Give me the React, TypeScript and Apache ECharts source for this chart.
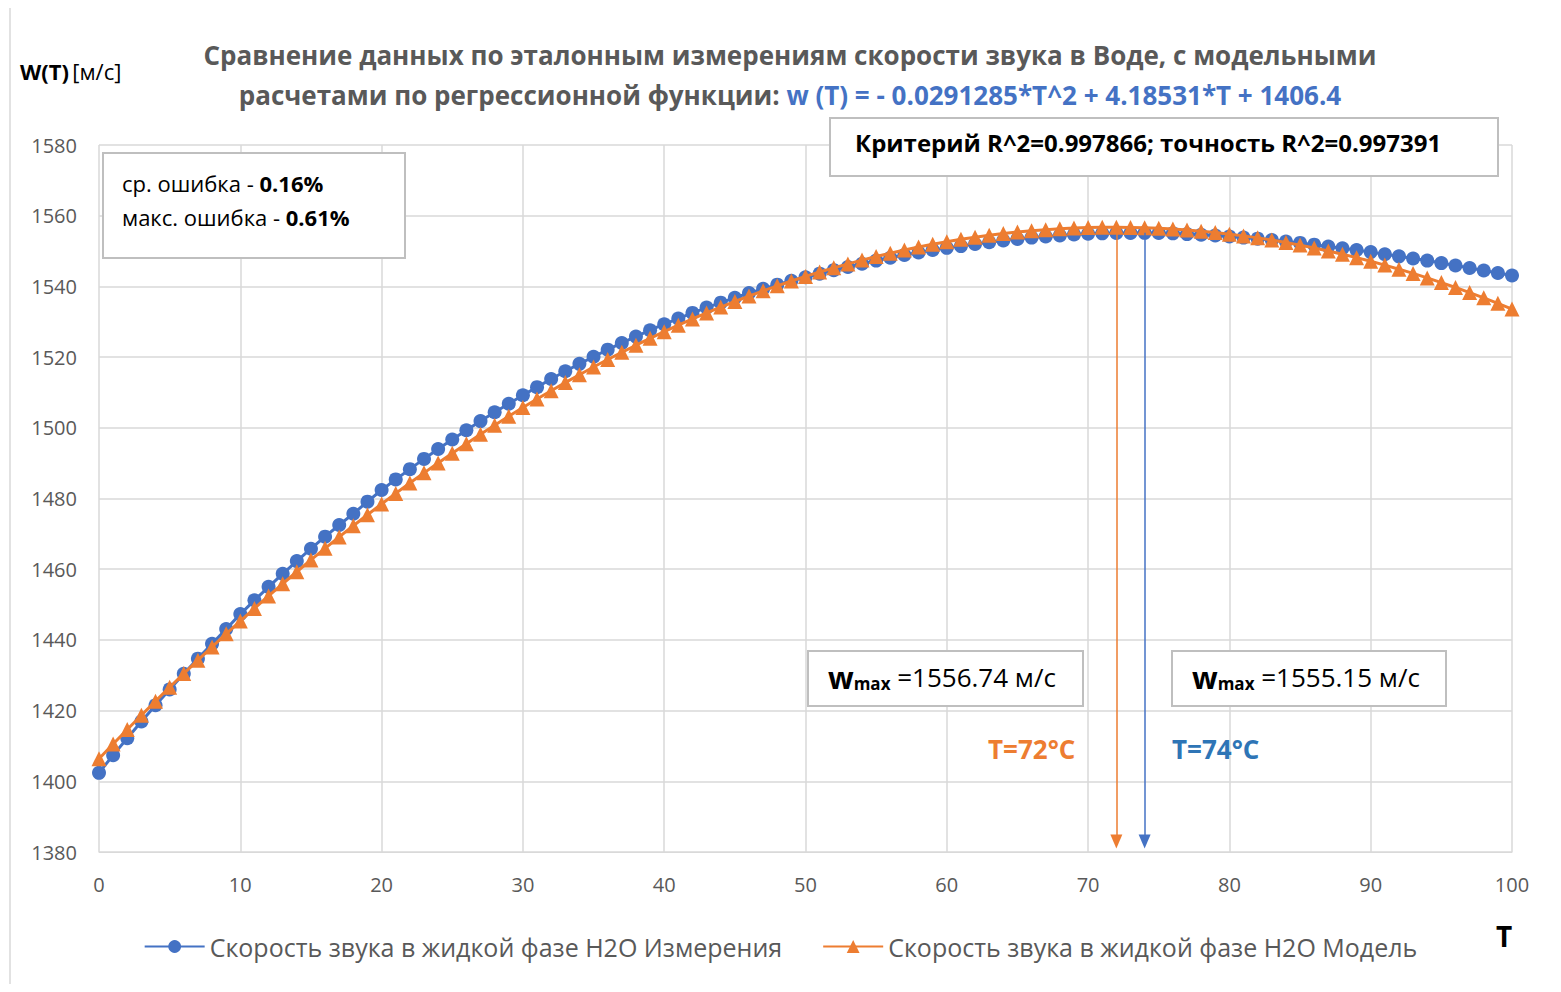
import React, { useEffect, useRef } from "react";
import * as echarts from "echarts";

const temps: number[] = Array.from({ length: 101 }, (_, i) => i);
const measured: number[] = [
  1402.4, 1407.4, 1412.2, 1416.9, 1421.5, 1426.0, 1430.4, 1434.7, 1438.9, 1443.1,
  1447.3, 1451.2, 1455.0, 1458.7, 1462.3, 1465.8, 1469.2, 1472.5, 1475.7, 1479.1,
  1482.4, 1485.4, 1488.3, 1491.2, 1494.0, 1496.7, 1499.3, 1501.9, 1504.4, 1506.8,
  1509.2, 1511.5, 1513.8, 1516.0, 1518.1, 1520.1, 1522.1, 1524.0, 1525.8, 1527.6,
  1529.3, 1530.9, 1532.5, 1534.0, 1535.4, 1536.8, 1538.1, 1539.3, 1540.5, 1541.6,
  1542.6, 1543.6, 1544.6, 1545.5, 1546.4, 1547.3, 1548.1, 1548.9, 1549.6, 1550.3,
  1550.9, 1551.4, 1552.0, 1552.5, 1553.0, 1553.4, 1553.8, 1554.1, 1554.4, 1554.7,
  1554.9, 1555.0, 1555.1, 1555.1, 1555.15, 1555.1, 1555.0, 1554.8, 1554.6, 1554.4,
  1554.1, 1553.8, 1553.5, 1553.1, 1552.7, 1552.3, 1551.8, 1551.3, 1550.8, 1550.3,
  1549.7, 1549.1, 1548.5, 1547.9, 1547.3, 1546.6, 1545.9, 1545.2, 1544.5, 1543.8,
  1543.1,
];
const model: number[] = [
  1406.40, 1410.56, 1414.66, 1418.70, 1422.68, 1426.60, 1430.47, 1434.27, 1438.02, 1441.71,
  1445.34, 1448.91, 1452.43, 1455.88, 1459.28, 1462.62, 1465.90, 1469.13, 1472.29, 1475.40,
  1478.45, 1481.44, 1484.37, 1487.25, 1490.06, 1492.82, 1495.52, 1498.16, 1500.74, 1503.27,
  1505.73, 1508.14, 1510.49, 1512.78, 1515.02, 1517.19, 1519.31, 1521.36, 1523.36, 1525.31,
  1527.19, 1529.02, 1530.78, 1532.49, 1534.14, 1535.73, 1537.27, 1538.74, 1540.16, 1541.52,
  1542.82, 1544.06, 1545.25, 1546.37, 1547.44, 1548.45, 1549.40, 1550.29, 1551.12, 1551.90,
  1552.62, 1553.32, 1553.92, 1554.46, 1554.95, 1555.37, 1555.74, 1556.05, 1556.30, 1556.50,
  1556.63, 1556.71, 1556.73, 1556.69, 1556.59, 1556.43, 1556.22, 1555.94, 1555.61, 1555.22,
  1554.77, 1554.29, 1553.73, 1553.10, 1552.42, 1551.68, 1550.88, 1550.03, 1549.11, 1548.14,
  1547.11, 1546.02, 1544.87, 1543.67, 1542.40, 1541.08, 1539.70, 1538.26, 1536.77, 1535.21,
  1533.60,
];
const seriesNames = [
  "Скорость звука в жидкой фазе H2O Измерения",
  "Скорость звука в жидкой фазе H2O Модель",
];
const measMax = { t: 74, w: 1555.15 };
const modelMax = { t: 72, w: 1556.74 };

const BLUE = "#4472C4";
const ORANGE = "#ED7D31";
const GREY = "#595959";
const FONT = "'Open Sans', 'Noto Sans', sans-serif";

const box = (x: number, y: number, w: number, h: number) => ({
  type: "rect",
  shape: { x, y, width: w, height: h },
  style: { fill: "#fff", stroke: "#bfbfbf", lineWidth: 2 },
  z: 10,
});

const wmaxText = (w: number) => ({
  text: "{w|w}{s|max}{n| =" + w.toFixed(2) + " м/с}",
  rich: {
    w: { fontSize: 30, fontWeight: "bold", fill: "#000", fontFamily: FONT },
    s: { fontSize: 17, fontWeight: "bold", fill: "#000", padding: [12, 0, 0, 0], fontFamily: FONT },
    n: { fontSize: 26, fill: "#000", fontFamily: FONT },
  },
});

export default function App() {
  const ref = useRef<HTMLDivElement>(null);

  useEffect(() => {
    if (!ref.current) return;
    const chart = echarts.init(ref.current, null, { renderer: "svg" });
    chart.setOption({
      animation: false,
      textStyle: { fontFamily: FONT },
      title: {
        left: 785,
        top: 30,
        textAlign: "center",
        text: "{g|Сравнение данных по эталонным измерениям скорости звука в Воде, с модельными}\n{g|расчетами по регрессионной функции: }{b|w (T) = - 0.0291285*T^2 + 4.18531*T + 1406.4}",
        textStyle: {
          rich: {
            g: { fontSize: 26, fontWeight: "bold", color: GREY, lineHeight: 40, fontFamily: FONT },
            b: { fontSize: 26, fontWeight: "bold", color: BLUE, lineHeight: 40, fontFamily: FONT },
          },
        },
      },
      legend: {
        bottom: 28,
        left: "center",
        itemGap: 40,
        itemWidth: 60,
        itemHeight: 16,
        textStyle: { fontSize: 25, color: GREY, fontFamily: FONT },
        data: seriesNames,
      },
      grid: { left: 99, right: 49, top: 145, bottom: 140 },
      xAxis: {
        type: "value",
        min: 0,
        max: 100,
        interval: 10,
        axisLine: { lineStyle: { color: "#d9d9d9" } },
        axisTick: { show: false },
        splitLine: { show: true, lineStyle: { color: "#d9d9d9", width: 1.5 } },
        axisLabel: { fontSize: 20, color: GREY, margin: 22 },
      },
      yAxis: {
        type: "value",
        min: 1380,
        max: 1580,
        interval: 20,
        axisLine: { show: false },
        axisTick: { show: false },
        splitLine: { lineStyle: { color: "#d9d9d9", width: 1.5 } },
        axisLabel: { fontSize: 20, color: GREY, margin: 22, formatter: (v: number) => String(v) },
      },
      series: [
        {
          name: seriesNames[0],
          type: "line",
          data: temps.map((t, i) => [t, measured[i]]),
          symbol: "circle",
          symbolSize: 14,
          itemStyle: { color: BLUE },
          lineStyle: { color: BLUE, width: 3 },
          markLine: {
            silent: true,
            symbol: ["none", "triangle"],
            symbolSize: [12, 14],
            label: { show: false },
            lineStyle: { color: BLUE, width: 1.5, type: "solid" },
            data: [[{ coord: [measMax.t, measMax.w] }, { coord: [measMax.t, 1383] }]],
          },
          z: 2,
        },
        {
          name: seriesNames[1],
          type: "line",
          data: temps.map((t, i) => [t, model[i]]),
          symbol: "triangle",
          symbolSize: 15,
          itemStyle: { color: ORANGE },
          lineStyle: { color: ORANGE, width: 3 },
          markLine: {
            silent: true,
            symbol: ["none", "triangle"],
            symbolSize: [12, 14],
            label: { show: false },
            lineStyle: { color: ORANGE, width: 1.5, type: "solid" },
            data: [[{ coord: [modelMax.t, modelMax.w] }, { coord: [modelMax.t, 1383] }]],
          },
          z: 3,
        },
      ],
      graphic: [
        {
          type: "rect",
          shape: { x: 10, y: 5, width: 1545, height: 980 },
          style: { fill: "none", stroke: "#d9d9d9", lineWidth: 1.5 },
          silent: true,
        },
        {
          type: "text", left: 20, top: 60, z: 10,
          style: {
            text: "{b|W(T)} {n|[м/с]}",
            rich: {
              b: { fontSize: 22, fontWeight: "bold", fill: "#000", fontFamily: FONT },
              n: { fontSize: 22, fill: "#000", fontFamily: FONT },
            },
          },
        },
        { type: "text", left: 1496, top: 922, z: 10, style: { text: "T", fontSize: 28, fontWeight: "bold", fill: "#000", fontFamily: FONT } },
        box(103, 153, 302, 105),
        {
          type: "text", left: 122, top: 172, z: 11,
          style: {
            text: "{n|ср. ошибка - }{b|0.16%}\n{n|макс. ошибка - }{b|0.61%}",
            rich: {
              n: { fontSize: 22, fill: "#000", lineHeight: 34, fontFamily: FONT },
              b: { fontSize: 22, fontWeight: "bold", fill: "#000", lineHeight: 34, fontFamily: FONT },
            },
          },
        },
        box(830, 118, 668, 58),
        {
          type: "text", left: 855, top: 130, z: 11,
          style: { text: "Критерий R^2=0.997866; точность R^2=0.997391", fontSize: 24, fontWeight: "bold", fill: "#000", fontFamily: FONT },
        },
        box(808, 651, 275, 55),
        { type: "text", left: 828, top: 662, z: 11, style: wmaxText(modelMax.w) },
        box(1172, 651, 274, 55),
        { type: "text", left: 1192, top: 662, z: 11, style: wmaxText(measMax.w) },
        {
          type: "text", left: 988, top: 736, z: 11,
          style: { text: "T=" + modelMax.t + "°C", fontSize: 26, fontWeight: "bold", fill: ORANGE, fontFamily: FONT },
        },
        {
          type: "text", left: 1172, top: 736, z: 11,
          style: { text: "T=" + measMax.t + "°C", fontSize: 26, fontWeight: "bold", fill: "#2E75B6", fontFamily: FONT },
        },
      ],
    });
    return () => chart.dispose();
  }, []);

  return <div ref={ref} style={{ width: 1561, height: 992, margin: -8, background: "#fff" }} />;
}
